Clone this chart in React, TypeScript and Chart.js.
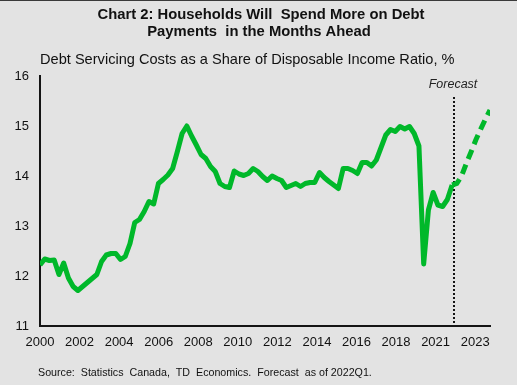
import React, { useEffect, useRef } from "react";
import { Chart, registerables } from "chart.js";

Chart.register(...registerables);

// Quarterly data 2000Q1 .. 2021Q4 (actual)
const actual: number[] = [
  12.22, 12.34, 12.31, 12.32, 12.03, 12.26, 11.96, 11.79, 11.71, 11.79,
  11.87, 11.95, 12.03, 12.29, 12.42, 12.45, 12.45, 12.33, 12.39, 12.65,
  13.07, 13.13, 13.29, 13.49, 13.44, 13.85, 13.93, 14.02, 14.15, 14.49,
  14.85, 15.0, 14.8, 14.62, 14.43, 14.35, 14.19, 14.09, 13.85, 13.79,
  13.77, 14.1, 14.04, 14.01, 14.05, 14.15, 14.09, 13.99, 13.91, 14.0,
  13.95, 13.91, 13.77, 13.81, 13.85, 13.79, 13.85, 13.87, 13.87, 14.07,
  13.97, 13.89, 13.82, 13.75, 14.15, 14.15, 14.11, 14.05, 14.27, 14.27,
  14.2, 14.32, 14.57, 14.82, 14.93, 14.89, 14.99, 14.94, 14.99, 14.85,
  14.6, 12.24, 13.32, 13.67, 13.42, 13.39, 13.53, 13.82,
];
// Forecast 2021Q4 .. 2023Q4
const forecast: number[] = [13.82, 13.85, 14.0, 14.25, 14.48, 14.72, 14.93, 15.13, 15.32];
const forecastFrom = actual.length - 1;

const tickLabels: string[] = ["2000", "2002", "2004", "2006", "2008", "2010", "2012", "2014", "2016", "2018", "2021", "2023"];
const labelSlots = 92;
const labelEvery = 8;

const titleLines = ["Chart 2: Households Will  Spend More on Debt", "Payments  in the Months Ahead"];
const subtitle = "Debt Servicing Costs as a Share of Disposable Income Ratio, %";
const source = "Source:  Statistics  Canada,  TD  Economics.  Forecast  as of 2022Q1.";
const forecastText = "Forecast";

const FONT = "'Liberation Sans', Arial, sans-serif";
const GREEN = "#00b82a";
const INK = "#141414";

export default function App() {
  const ref = useRef<HTMLCanvasElement | null>(null);

  useEffect(() => {
    const slotLabels: string[] = [];
    for (let i = 0; i < labelSlots; i++) {
      slotLabels.push(i % labelEvery === 0 ? tickLabels[i / labelEvery] ?? "" : "");
    }
    const actualPts = actual.map((v, i) => ({ x: i, y: v }));
    const forecastPts = forecast.map((v, i) => ({ x: forecastFrom + i, y: v }));

    const deco = {
      id: "deco",
      beforeDraw(chart: any) {
        const c = chart.ctx;
        c.save();
        c.fillStyle = "#e3e3e3";
        c.fillRect(0, 0, chart.width, chart.height);
        c.fillStyle = "#3a3a3a";
        c.fillRect(0, 0, chart.width, 1);
        c.restore();
      },
      beforeDatasetsDraw(chart: any) {
        const c = chart.ctx;
        const xs = chart.scales.x;
        const ys = chart.scales.y;
        const px = Math.round(xs.getPixelForValue(forecastFrom + 0.5));
        c.save();
        c.strokeStyle = INK;
        c.lineWidth = 2;
        c.setLineDash([2, 2]);
        c.beginPath();
        c.moveTo(px, ys.getPixelForValue(15.58));
        c.lineTo(px, ys.getPixelForValue(11));
        c.stroke();
        c.setLineDash([]);
        c.fillStyle = "#222";
        c.font = `italic 12.5px ${FONT}`;
        c.textAlign = "center";
        c.textBaseline = "middle";
        c.fillText(forecastText, px - 1, 85);
        c.restore();
      },
      afterDraw(chart: any) {
        const c = chart.ctx;
        c.save();
        c.fillStyle = "#111";
        c.textAlign = "center";
        c.textBaseline = "middle";
        c.font = `bold 14.8px ${FONT}`;
        c.fillText(titleLines[0], 261, 15);
        c.fillText(titleLines[1], 259, 32);
        c.font = `14.6px ${FONT}`;
        c.textAlign = "left";
        c.fillText(subtitle, 40, 60);
        c.font = `10.7px ${FONT}`;
        c.fillText(source, 38, 373);
        c.restore();
      },
    };

    const chart = new Chart(ref.current as HTMLCanvasElement, {
      type: "line",
      data: {
        datasets: [
          {
            data: actualPts,
            borderColor: GREEN,
            borderWidth: 5,
            pointRadius: 0,
            tension: 0,
            borderJoinStyle: "round",
            xAxisID: "x",
            yAxisID: "y",
          },
          {
            data: forecastPts,
            borderColor: GREEN,
            borderWidth: 5,
            borderDash: [10, 6],
            pointRadius: 0,
            tension: 0,
            xAxisID: "x",
            yAxisID: "y",
          },
        ],
      },
      options: {
        animation: false,
        responsive: false,
        maintainAspectRatio: false,
        layout: { padding: { left: 0, right: 27, top: 76, bottom: 29 } },
        plugins: { legend: { display: false }, tooltip: { enabled: false }, title: { display: false } },
        scales: {
          x: { type: "linear", min: 0, max: 95, display: false },
          xl: {
            type: "category",
            labels: slotLabels,
            position: "bottom",
            offset: false,
            grid: { display: false, drawTicks: false },
            border: { color: INK, width: 2 },
            ticks: {
              autoSkip: false,
              maxRotation: 0,
              padding: 9,
              color: "#111",
              font: { family: FONT, size: 13 },
              callback: (_v: any, i: number) => slotLabels[i],
            },
            afterFit: (s: any) => { s.height = 30; },
          },
          y: {
            min: 11,
            max: 16,
            grid: { display: false, drawTicks: false },
            border: { color: INK, width: 2 },
            ticks: { stepSize: 1, padding: 11, color: "#111", font: { family: FONT, size: 13 } },
            afterFit: (s: any) => { s.width = 40; },
          },
        },
      },
      plugins: [deco],
    } as any);
    return () => chart.destroy();
  }, []);

  return (
    <div style={{ position: "absolute", left: 0, top: 0, width: 517, height: 385 }}>
      <canvas ref={ref} width={517} height={385} style={{ display: "block" }} />
    </div>
  );
}
